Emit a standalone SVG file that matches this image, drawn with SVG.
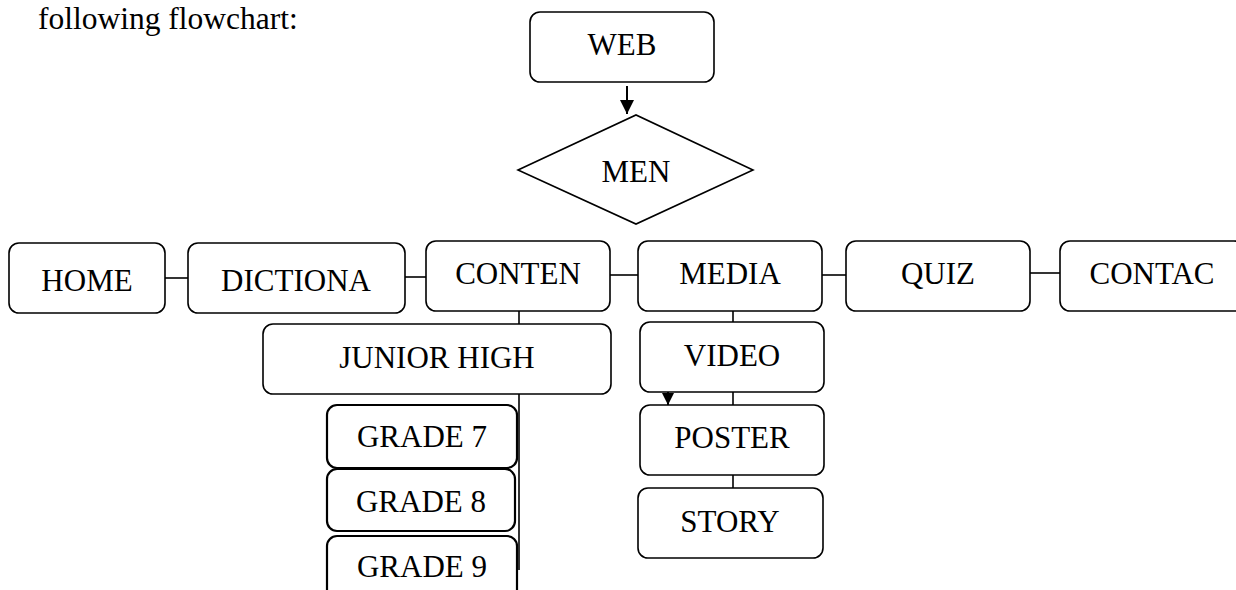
<svg xmlns="http://www.w3.org/2000/svg" width="1236" height="590" viewBox="0 0 1236 590">
<style>
  .box { fill: #fff; stroke: #000; stroke-width: 1.6; }
  .gbox { fill: #fff; stroke: #000; stroke-width: 2.2; }
  .lbl { font-family: "Liberation Serif", "Times New Roman", serif; font-size: 31px; fill: #000; text-anchor: middle; }
  .cap { font-family: "Liberation Serif", "Times New Roman", serif; font-size: 31.5px; fill: #000; }
  .con { stroke: #000; stroke-width: 1.6; fill: none; }
  .arw { stroke: #000; stroke-width: 2; fill: none; }
</style>
<defs>
  <marker id="arr" viewBox="0 0 10 10" refX="10" refY="5" markerWidth="14" markerHeight="14" markerUnits="userSpaceOnUse" orient="auto">
    <path d="M0,0 L10,5 L0,10 z" fill="#000"/>
  </marker>
  <marker id="arr2" viewBox="0 0 10 10" refX="10" refY="5" markerWidth="12" markerHeight="16" markerUnits="userSpaceOnUse" orient="auto">
    <path d="M0,0 L10,5 L0,10 z" fill="#000"/>
  </marker>
</defs>
<rect width="1236" height="590" fill="#fff"/>
<text class="cap" x="38" y="29">following flowchart:</text>

<g id="connectors">
  <line class="arw" x1="627" y1="86" x2="627" y2="114" marker-end="url(#arr)"/>
  <line class="con" x1="165" y1="278" x2="188" y2="278"/>
  <line class="con" x1="405" y1="277" x2="426" y2="277"/>
  <line class="con" x1="610" y1="275" x2="638" y2="275"/>
  <line class="con" x1="822" y1="275" x2="846" y2="275"/>
  <line class="con" x1="1030" y1="273" x2="1060" y2="273"/>
  <line class="con" x1="519" y1="311" x2="519" y2="324"/>
  <line class="con" x1="519" y1="394" x2="519" y2="570"/>
  <line class="con" x1="733" y1="311" x2="733" y2="322"/>
  <line class="con" x1="733" y1="392" x2="733" y2="405"/>
  <line class="con" x1="733" y1="475" x2="733" y2="488"/>
  <line class="arw" x1="668" y1="392" x2="668" y2="405" marker-end="url(#arr2)"/>
</g>

<g id="web"><rect class="box" x="530" y="12" width="184" height="70" rx="10"/><text class="lbl" x="622" y="55">WEB</text></g>
<g id="men"><polygon class="box" points="518,170 636,115 753,170 636,224"/><text class="lbl" x="636" y="182">MEN</text></g>
<g id="home"><rect class="box" x="9" y="243" width="156" height="70" rx="10"/><text class="lbl" x="87" y="291">HOME</text></g>
<g id="dictiona"><rect class="box" x="188" y="243" width="217" height="70" rx="10"/><text class="lbl" x="296" y="291">DICTIONA</text></g>
<g id="conten"><rect class="box" x="426" y="241" width="184" height="70" rx="10"/><text class="lbl" x="518" y="284">CONTEN</text></g>
<g id="media"><rect class="box" x="638" y="241" width="184" height="70" rx="10"/><text class="lbl" x="730" y="284">MEDIA</text></g>
<g id="quiz"><rect class="box" x="846" y="241" width="184" height="70" rx="10"/><text class="lbl" x="938" y="284">QUIZ</text></g>
<g id="contac"><rect class="box" x="1060" y="241" width="184" height="70" rx="10"/><text class="lbl" x="1152" y="284">CONTAC</text></g>
<g id="junior-high"><rect class="box" x="263" y="324" width="348" height="70" rx="10"/><text class="lbl" x="437" y="368">JUNIOR HIGH</text></g>
<g id="grade7"><rect class="gbox" x="327" y="405" width="190" height="63" rx="10"/><text class="lbl" x="422" y="447">GRADE 7</text></g>
<g id="grade8"><rect class="gbox" x="327" y="469" width="188" height="62" rx="10"/><text class="lbl" x="421" y="512">GRADE 8</text></g>
<g id="grade9"><rect class="gbox" x="327" y="536" width="190" height="70" rx="10"/><text class="lbl" x="422" y="577">GRADE 9</text></g>
<g id="video"><rect class="box" x="640" y="322" width="184" height="70" rx="10"/><text class="lbl" x="732" y="366">VIDEO</text></g>
<g id="poster"><rect class="box" x="640" y="405" width="184" height="70" rx="10"/><text class="lbl" x="732" y="448">POSTER</text></g>
<g id="story"><rect class="box" x="638" y="488" width="185" height="70" rx="10"/><text class="lbl" x="730" y="532">STORY</text></g>
</svg>
